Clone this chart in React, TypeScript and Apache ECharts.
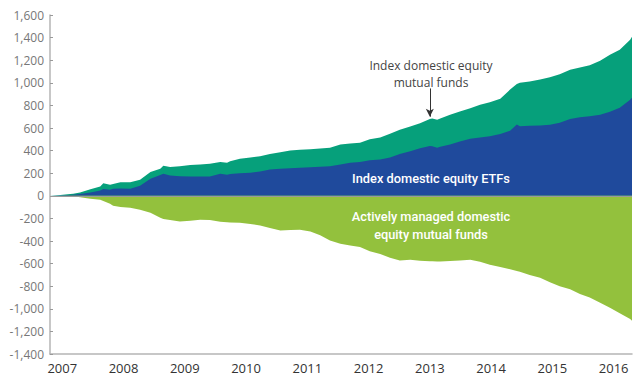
import React, { useEffect, useRef } from "react";
import * as echarts from "echarts";

// Decimal-year dates of the samples
const dates = [
  2006.8, 2006.97, 2007.13, 2007.18, 2007.29, 2007.46, 2007.62, 2007.67, 2007.78, 2007.83,
  2007.95, 2008.11, 2008.27, 2008.44, 2008.6, 2008.65, 2008.76, 2008.92, 2009.09, 2009.25,
  2009.41, 2009.58, 2009.69, 2009.74, 2009.9, 2010.07, 2010.23, 2010.39, 2010.56, 2010.72,
  2010.88, 2011.05, 2011.21, 2011.37, 2011.54, 2011.7, 2011.86, 2012.02, 2012.19, 2012.35,
  2012.51, 2012.68, 2012.84, 2013.0, 2013.04, 2013.12, 2013.17, 2013.33, 2013.49, 2013.66,
  2013.82, 2013.98, 2014.15, 2014.31, 2014.42, 2014.47, 2014.63, 2014.8, 2014.96, 2015.12,
  2015.29, 2015.45, 2015.61, 2015.78, 2015.94, 2016.1, 2016.27, 2016.3,
];

// Index domestic equity ETFs (cumulative flows, $ billions)
const etfs = [
  0, 3, 8, 10, 15, 30, 47, 60, 53, 62,
  65, 62, 88, 150, 185, 195, 180, 172, 171, 171,
  171, 195, 186, 192, 200, 204, 215, 232, 240, 244,
  248, 252, 257, 262, 278, 292, 300, 315, 322, 340,
  370, 395, 420, 440, 438, 425, 435, 455, 480, 505,
  515, 528, 548, 575, 630, 615, 619, 622, 628, 646,
  680, 695, 705, 717, 743, 779, 850, 867,
];

// Index domestic equity mutual funds (layered on top of ETFs)
const indexMF = [
  0, 5, 7, 8, 15, 29, 35, 52, 44, 43,
  56, 59, 54, 60, 55, 70, 74, 90, 101, 107,
  112, 105, 106, 113, 127, 136, 135, 138, 145, 156,
  159, 160, 161, 163, 177, 170, 170, 185, 193, 210,
  214, 218, 223, 239, 245, 247, 250, 263, 265, 270,
  290, 300, 310, 365, 360, 385, 392, 408, 422, 429,
  435, 440, 450, 478, 505, 513, 530, 540,
];

// Actively managed domestic equity mutual funds
const active = [
  0, 0, -2, -4, -12, -25, -35, -45, -70, -88,
  -100, -106, -124, -150, -195, -205, -215, -227, -220, -212,
  -215, -230, -235, -237, -239, -250, -262, -285, -308, -302,
  -301, -315, -350, -395, -425, -440, -452, -490, -515, -548,
  -572, -566, -575, -580, -580, -582, -582, -578, -572, -566,
  -584, -610, -630, -650, -665, -672, -700, -726, -765, -800,
  -828, -870, -900, -947, -990, -1040, -1090, -1106,
];

const yearTicks = [2007, 2008, 2009, 2010, 2011, 2012, 2013, 2014, 2015, 2016];

const FONT = "'Open Sans', 'Noto Sans', sans-serif";
const BOLD_FONT = "Roboto, 'Noto Sans', sans-serif";

export default function App() {
  const ref = useRef<HTMLDivElement>(null);

  useEffect(() => {
    if (!ref.current) return;
    const chart = echarts.init(ref.current, undefined, { renderer: "svg" });
    const zip = (arr: number[]) => dates.map((d, i) => [d, arr[i]]);
    const totals = etfs.map((v, i) => v + indexMF[i]);
    chart.setOption({
      animation: false,
      grid: { left: 50, right: 8, top: 15, bottom: 31, containLabel: false },
      xAxis: {
        type: "value",
        min: 2006.8,
        max: 2016.3,
        axisLine: { show: true, onZero: false, lineStyle: { color: "#b5b5b5", width: 1.5 } },
        axisTick: { show: false },
        splitLine: { show: false },
        axisLabel: {
          customValues: yearTicks,
          formatter: (v: number) => String(Math.round(v)),
          color: "#333",
          fontSize: 13,
          fontFamily: FONT,
          margin: 7,
        },
      },
      yAxis: {
        type: "value",
        min: -1400,
        max: 1600,
        interval: 200,
        axisLine: { show: true, lineStyle: { color: "#b5b5b5", width: 1.5 } },
        axisTick: { show: true, inside: true, length: 3, lineStyle: { color: "#999" } },
        splitLine: { show: false },
        axisLabel: {
          formatter: (v: number) => v.toLocaleString("en-US"),
          color: "#777",
          fontSize: 12,
          fontFamily: FONT,
          margin: 6,
        },
      },
      series: [
        {
          name: "Index domestic equity mutual funds",
          type: "line",
          data: zip(totals),
          showSymbol: false,
          lineStyle: { width: 0 },
          areaStyle: { color: "#06a07b", opacity: 1 },
          itemStyle: { color: "#06a07b" },
          z: 2,
          markLine: {
            silent: true,
            symbol: ["none", "arrow"],
            symbolSize: [6, 8],
            label: { show: false },
            lineStyle: { color: "#333", width: 1, type: "solid" },
            data: [[{ coord: [2013.0, 950] }, { coord: [2013.0, 700] }]],
          },
        },
        {
          name: "Index domestic equity ETFs",
          type: "line",
          data: zip(etfs),
          showSymbol: false,
          lineStyle: { width: 0 },
          areaStyle: { color: "#1f4a9c", opacity: 1 },
          itemStyle: { color: "#1f4a9c" },
          z: 3,
        },
        {
          name: "Actively managed domestic equity mutual funds",
          type: "line",
          data: zip(active),
          showSymbol: false,
          lineStyle: { width: 0 },
          areaStyle: { color: "#93c13d", opacity: 1 },
          itemStyle: { color: "#93c13d" },
          z: 3,
          markLine: {
            silent: true,
            symbol: ["none", "none"],
            label: { show: false },
            lineStyle: { color: "#9a9a9a", width: 1.2, type: "solid" },
            data: [{ yAxis: 0 }],
          },
        },
      ],
      graphic: [
        {
          type: "text",
          x: 431,
          y: 57,
          z: 100,
          style: {
            text: "Index domestic equity\nmutual funds",
            align: "center",
            fill: "#444",
            font: `12px ${FONT}`,
            lineHeight: 17,
          },
        },
        {
          type: "text",
          x: 431,
          y: 172,
          z: 100,
          style: {
            text: "Index domestic equity ETFs",
            align: "center",
            fill: "#fff",
            font: `500 12.8px ${BOLD_FONT}`,
          },
        },
        {
          type: "text",
          x: 431,
          y: 207,
          z: 100,
          style: {
            text: "Actively managed domestic\nequity mutual funds",
            align: "center",
            fill: "#fff",
            font: `500 12.8px ${BOLD_FONT}`,
            lineHeight: 18,
          },
        },
      ],
    });
    return () => chart.dispose();
  }, []);

  return (
    <div
      ref={ref}
      style={{ position: "fixed", left: 0, top: 0, width: 640, height: 385, background: "#fff" }}
    />
  );
}
